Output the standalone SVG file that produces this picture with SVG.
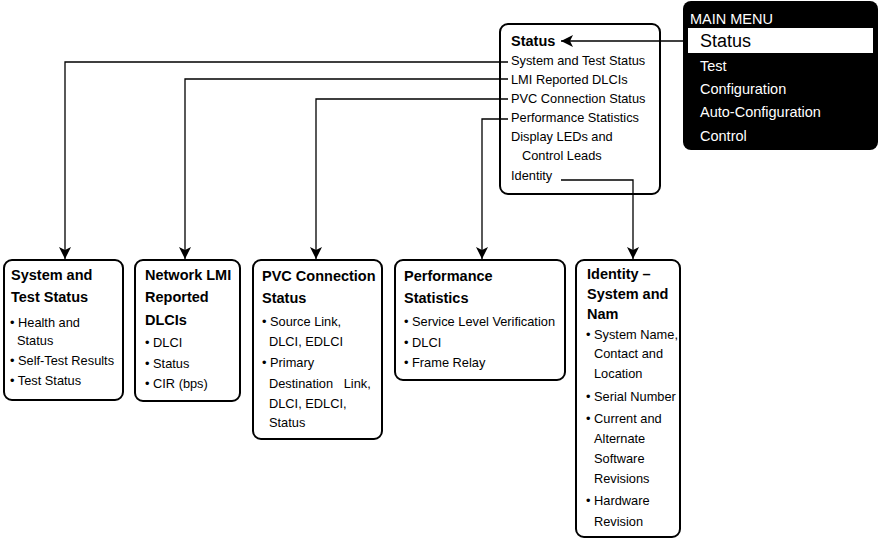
<svg xmlns="http://www.w3.org/2000/svg" width="880" height="539" viewBox="0 0 880 539">
<style>
text{font-family:"Liberation Sans",Arial,sans-serif;fill:#000}
.t{font-size:12.8px}
.b{font-size:14.5px;font-weight:bold}
.m{font-size:14.5px;fill:#fff}
.box{fill:#fff;stroke:#000;stroke-width:2}
.c{fill:none;stroke:#000;stroke-width:1.3}
</style>
<defs>
<marker id="ah" markerUnits="userSpaceOnUse" markerWidth="12" markerHeight="12" refX="12" refY="6" orient="auto">
<path d="M0,0 L12,6 L0,12 L3,6 Z" fill="#000"/>
</marker>
</defs>
<g id="main-menu">
<rect x="683" y="1" width="195" height="149" rx="8" fill="#000"/>
<rect x="688" y="28" width="185" height="25" fill="#fff"/>
<text class="m" x="690" y="24">MAIN MENU</text>
<text x="700" y="47" style="font-size:18px">Status</text>
<text class="m" x="700" y="71">Test</text>
<text class="m" x="700" y="94">Configuration</text>
<text class="m" x="700" y="117">Auto-Configuration</text>
<text class="m" x="700" y="141">Control</text>
</g>
<g id="status">
<rect class="box" x="500" y="24" width="160" height="170" rx="8"/>
<text class="b" x="511" y="46">Status</text>
<text class="t" x="511" y="65">System and Test Status</text>
<text class="t" x="511" y="84">LMI Reported DLCIs</text>
<text class="t" x="511" y="103">PVC Connection Status</text>
<text class="t" x="511" y="122">Performance Statistics</text>
<text class="t" x="511" y="141">Display LEDs and</text>
<text class="t" x="522" y="160">Control Leads</text>
<text class="t" x="511" y="180">Identity</text>
</g>
<g id="system-test-status">
<rect class="box" x="4" y="260" width="119" height="140" rx="8"/>
<text class="b" x="11" y="280">System and</text>
<text class="b" x="11" y="302">Test Status</text>
<text class="t" x="10" y="327">• Health and</text>
<text class="t" x="17" y="345">Status</text>
<text class="t" x="10" y="365">• Self-Test Results</text>
<text class="t" x="10" y="385">• Test Status</text>
</g>
<g id="network-lmi">
<rect class="box" x="135" y="260" width="105" height="141" rx="8"/>
<text class="b" x="145" y="280">Network LMI</text>
<text class="b" x="145" y="302">Reported</text>
<text class="b" x="145" y="325">DLCIs</text>
<text class="t" x="145" y="347">• DLCI</text>
<text class="t" x="145" y="368">• Status</text>
<text class="t" x="145" y="388">• CIR (bps)</text>
</g>
<g id="pvc-connection">
<rect class="box" x="253" y="260" width="129" height="179" rx="8"/>
<text class="b" x="262" y="281">PVC Connection</text>
<text class="b" x="262" y="303">Status</text>
<text class="t" x="262" y="326">• Source Link,</text>
<text class="t" x="269" y="346">DLCI, EDLCI</text>
<text class="t" x="262" y="367">• Primary</text>
<text class="t" x="269" y="388" xml:space="preserve">Destination   Link,</text>
<text class="t" x="269" y="408">DLCI, EDLCI,</text>
<text class="t" x="269" y="427">Status</text>
</g>
<g id="performance-statistics">
<rect class="box" x="395" y="260" width="170" height="120" rx="8"/>
<text class="b" x="404" y="281">Performance</text>
<text class="b" x="404" y="303">Statistics</text>
<text class="t" x="404" y="326">• Service Level Verification</text>
<text class="t" x="404" y="347">• DLCI</text>
<text class="t" x="404" y="367">• Frame Relay</text>
</g>
<g id="identity">
<rect class="box" x="576" y="260" width="104" height="277" rx="8"/>
<text class="b" x="587" y="279">Identity –</text>
<text class="b" x="587" y="299">System and</text>
<text class="b" x="587" y="319">Nam</text>
<text class="t" x="586" y="339">• System Name,</text>
<text class="t" x="594" y="358">Contact and</text>
<text class="t" x="594" y="378">Location</text>
<text class="t" x="586" y="401">• Serial Number</text>
<text class="t" x="586" y="423">• Current and</text>
<text class="t" x="594" y="443">Alternate</text>
<text class="t" x="594" y="463">Software</text>
<text class="t" x="594" y="483">Revisions</text>
<text class="t" x="586" y="505">• Hardware</text>
<text class="t" x="594" y="526">Revision</text>
</g>
<g id="connectors">
<path class="c" d="M683,41 H561" marker-end="url(#ah)"/>
<path class="c" d="M508,62 H65 V259" marker-end="url(#ah)"/>
<path class="c" d="M508,79 H185 V259" marker-end="url(#ah)"/>
<path class="c" d="M508,99 H316 V259" marker-end="url(#ah)"/>
<path class="c" d="M508,119 H482 V259" marker-end="url(#ah)"/>
<path class="c" d="M561,180 H633 V259" marker-end="url(#ah)"/>
</g>
</svg>
